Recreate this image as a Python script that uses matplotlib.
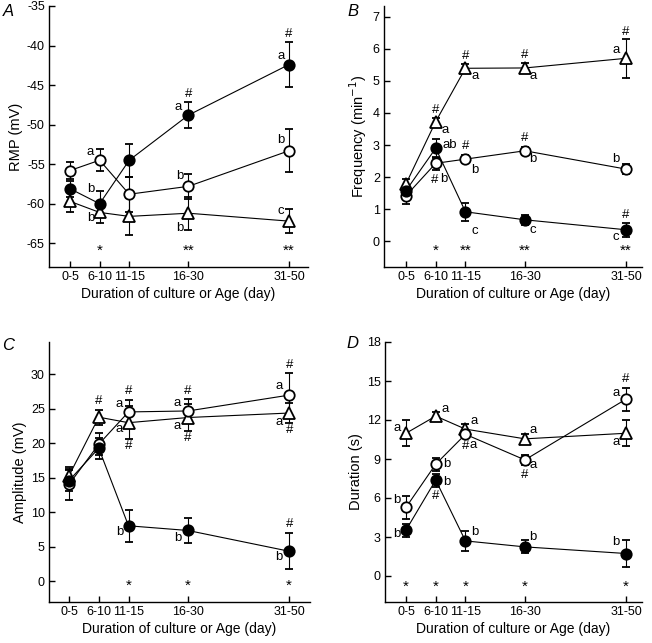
import numpy as np
import matplotlib
matplotlib.use("Agg")
import matplotlib.pyplot as plt

plt.rcParams['font.family'] = ['Liberation Sans', 'DejaVu Sans']
plt.rcParams['axes.unicode_minus'] = False

# age groups and their plotting position (day)
groups = ['0-5', '6-10', '11-15', '16-30', '31-50']
xpos = [3, 8, 13, 23, 40]

# Panel A: RMP (mV)
rmp_filled = [-58.1, -60.0, -54.5, -48.8, -42.4]
rmp_filled_err = [1.0, 1.6, 2.1, 1.6, 2.9]
rmp_open = [-55.8, -54.5, -58.8, -57.8, -53.3]
rmp_open_err = [1.1, 1.4, 2.2, 1.6, 2.7]
rmp_tri = [-59.7, -61.1, -61.6, -61.2, -62.2]
rmp_tri_err = [1.3, 1.3, 2.3, 2.1, 1.5]

# Panel B: frequency (min-1)
freq_filled = [1.58, 2.9, 0.92, 0.67, 0.36]
freq_filled_err = [0.15, 0.3, 0.28, 0.15, 0.22]
freq_open = [1.42, 2.43, 2.56, 2.82, 2.25]
freq_open_err = [0.25, 0.2, 0.12, 0.12, 0.15]
freq_tri = [1.79, 3.73, 5.39, 5.4, 5.7]
freq_tri_err = [0.15, 0.1, 0.12, 0.15, 0.6]

# Panel C: amplitude (mV)
amp_filled = [14.6, 19.3, 8.05, 7.37, 4.36]
amp_filled_err = [1.5, 1.5, 2.3, 1.8, 2.6]
amp_open = [14.05, 19.87, 24.56, 24.7, 27.0]
amp_open_err = [2.3, 1.6, 1.8, 1.8, 3.2]
amp_tri = [15.3, 23.8, 23.0, 23.75, 24.4]
amp_tri_err = [1.3, 1.1, 2.4, 2.0, 1.5]

# Panel D: duration (s)
dur_filled = [3.53, 7.38, 2.7, 2.24, 1.73]
dur_filled_err = [0.5, 0.5, 0.75, 0.5, 1.05]
dur_open = [5.28, 8.6, 10.9, 8.93, 13.6]
dur_open_err = [0.9, 0.5, 0.3, 0.4, 0.9]
dur_tri = [10.98, 12.3, 11.3, 10.55, 10.98]
dur_tri_err = [1.0, 0.3, 0.4, 0.35, 1.0]

# significance marks (series, group index, text, anchor, dx px, dy px)
# anchor: m = marker, t = top of error bar, b = bottom of error bar
notes_a = [('f', 4, '#', 't', 0, 8), ('f', 4, 'a', 'm', -8, 9),
           ('f', 3, '#', 't', 0, 8), ('f', 3, 'a', 'm', -10, 8),
           ('f', 1, 'b', 'm', -9, 15), ('o', 1, 'a', 'm', -9, 8),
           ('t', 1, 'b', 'm', -9, -6), ('o', 3, 'b', 'm', -9, 10),
           ('t', 3, 'b', 'm', -9, -15), ('o', 4, 'b', 'm', -8, 11),
           ('t', 4, 'c', 'm', -8, 10)]
stars_a = [(1, '*'), (3, '**'), (4, '**')]

notes_b = [('t', 1, '#', 't', 0, 8), ('t', 1, 'a', 'm', 9, -8),
           ('f', 1, 'ab', 'm', 14, 3), ('o', 1, '#', 'b', -1, -10),
           ('o', 1, 'b', 'm', 8, -16),
           ('t', 2, '#', 't', 0, 8), ('t', 2, 'a', 'm', 10, -8),
           ('o', 2, '#', 't', 0, 9), ('o', 2, 'b', 'm', 9, -11),
           ('f', 2, 'c', 'm', 9, -19),
           ('t', 3, '#', 't', 0, 8), ('t', 3, 'a', 'm', 8, -8),
           ('o', 3, '#', 't', 0, 9), ('o', 3, 'b', 'm', 8, -8),
           ('f', 3, 'c', 'm', 8, -10),
           ('t', 4, '#', 't', 0, 7), ('t', 4, 'a', 'm', -10, 8),
           ('o', 4, 'b', 'm', -10, 10),
           ('f', 4, '#', 't', 0, 8), ('f', 4, 'c', 'm', -10, -7)]
stars_b = [(1, '*'), (2, '**'), (3, '**'), (4, '**')]

notes_c = [('t', 1, '#', 't', 0, 9),
           ('o', 2, 'a', 'm', -9, 8), ('o', 2, '#', 't', 0, 9),
           ('t', 2, 'a', 'm', -9, -6), ('t', 2, '#', 'b', 0, -7),
           ('o', 3, 'a', 'm', -11, 8), ('o', 3, '#', 't', 0, 8),
           ('t', 3, 'a', 'm', -11, -8), ('t', 3, '#', 'b', 0, -7),
           ('o', 4, 'a', 'm', -10, 9), ('o', 4, '#', 't', 0, 8),
           ('t', 4, 'a', 'm', -10, -9), ('t', 4, '#', 'b', 0, -7),
           ('f', 2, 'b', 'm', -9, -6), ('f', 3, 'b', 'm', -10, -8),
           ('f', 4, 'b', 'm', -10, -6), ('f', 4, '#', 't', 0, 9)]
stars_c = [(2, '*'), (3, '*'), (4, '*')]

notes_d = [('t', 0, 'a', 'm', -9, 5), ('t', 1, 'a', 'm', 9, 7),
           ('t', 2, 'a', 'm', 9, 8), ('o', 2, '#', 'm', 0, -12),
           ('o', 2, 'a', 'm', 8, -11), ('t', 3, 'a', 'm', 8, 9),
           ('o', 3, 'a', 'm', 8, -5), ('o', 3, '#', 'b', 0, -10),
           ('o', 4, 'a', 'm', -10, 6), ('o', 4, '#', 't', 0, 9),
           ('t', 4, 'a', 'm', -10, -9),
           ('o', 0, 'b', 'm', -9, 7), ('f', 0, 'b', 'm', -9, -4),
           ('o', 1, 'b', 'm', 11, 0), ('f', 1, 'b', 'm', 11, -2),
           ('f', 1, '#', 'b', 0, -9), ('f', 2, 'b', 'm', 9, 9),
           ('f', 3, 'b', 'm', 8, 10), ('f', 4, 'b', 'm', -10, 12)]
stars_d = [(0, '*'), (1, '*'), (2, '*'), (3, '*'), (4, '*')]

W, H = 652, 643
fig = plt.figure(figsize=(W / 100, H / 100), dpi=100)


def px_axes(l, t, r, b):
    return fig.add_axes([l / W, (H - b) / H, (r - l) / W, (b - t) / H])


def panel(ax, series, notes, stars, star_y, ylim, yticks, xlim, ylabel, letter, lpos):
    styles = {'t': dict(marker='^', mfc='white', ms=8.5),
              'o': dict(marker='o', mfc='white', ms=7.5),
              'f': dict(marker='o', mfc='black', ms=7.5)}
    for key in ['t', 'o', 'f']:
        y, e = series[key]
        ax.errorbar(xpos, y, yerr=e, color='black', lw=0.8, elinewidth=0.8,
                    capsize=3, capthick=0.8, mec='black', mew=1.3,
                    zorder=3, **styles[key])
    for key, i, txt, anc, dx, dy in notes:
        y, e = series[key]
        yy = y[i] + (e[i] if anc == 't' else -e[i] if anc == 'b' else 0)
        ax.annotate(txt, (xpos[i], yy), xytext=(dx, dy), textcoords='offset pixels',
                    ha='center', va='center', fontsize=9.5, zorder=5)
    for i, txt in stars:
        ax.text(xpos[i], star_y, txt, ha='center', va='center', fontsize=11)
    ax.set_xlim(*xlim)
    ax.set_ylim(*ylim)
    ax.set_yticks(yticks)
    ax.set_xticks(xpos)
    ax.set_xticklabels(groups)
    ax.spines['top'].set_visible(False)
    ax.spines['right'].set_visible(False)
    for s in ['left', 'bottom']:
        ax.spines[s].set_linewidth(1.0)
    ax.tick_params(direction='in', length=4, width=1.0, labelsize=9)
    ax.tick_params(axis='y', pad=3)
    ax.tick_params(axis='x', pad=3)
    ax.set_ylabel(ylabel, fontsize=10.5, labelpad=3)
    ax.set_xlabel('Duration of culture or Age (day)', fontsize=10, labelpad=3)
    fig.text(lpos[0] / W, 1 - lpos[1] / H, letter, fontsize=12, style='italic',
             ha='left', va='center')


ax_a = px_axes(49, 6, 308, 267)
panel(ax_a, {'f': (rmp_filled, rmp_filled_err), 'o': (rmp_open, rmp_open_err),
             't': (rmp_tri, rmp_tri_err)},
      notes_a, stars_a, -65.9, (-68, -35), np.arange(-65, -34, 5), (-0.55, 43.2),
      'RMP (mV)', 'A', (3, 12))

ax_b = px_axes(384, 6, 642, 267)
panel(ax_b, {'f': (freq_filled, freq_filled_err), 'o': (freq_open, freq_open_err),
             't': (freq_tri, freq_tri_err)},
      notes_b, stars_b, -0.3, (-0.8, 7.33), np.arange(0, 8, 1), (-0.7, 42.7),
      'Frequency (min$^{-1}$)', 'B', (347, 12))

ax_c = px_axes(49, 342, 310, 602)
panel(ax_c, {'f': (amp_filled, amp_filled_err), 'o': (amp_open, amp_open_err),
             't': (amp_tri, amp_tri_err)},
      notes_c, stars_c, -0.7, (-3, 34.7), np.arange(0, 31, 5), (-0.36, 43.5),
      'Amplitude (mV)', 'C', (2, 345))

ax_d = px_axes(385, 342, 642, 602)
panel(ax_d, {'f': (dur_filled, dur_filled_err), 'o': (dur_open, dur_open_err),
             't': (dur_tri, dur_tri_err)},
      notes_d, stars_d, -0.8, (-2, 18), np.arange(0, 19, 3), (-0.53, 42.7),
      'Duration (s)', 'D', (346, 343))

fig.savefig('out.png', dpi=100)
